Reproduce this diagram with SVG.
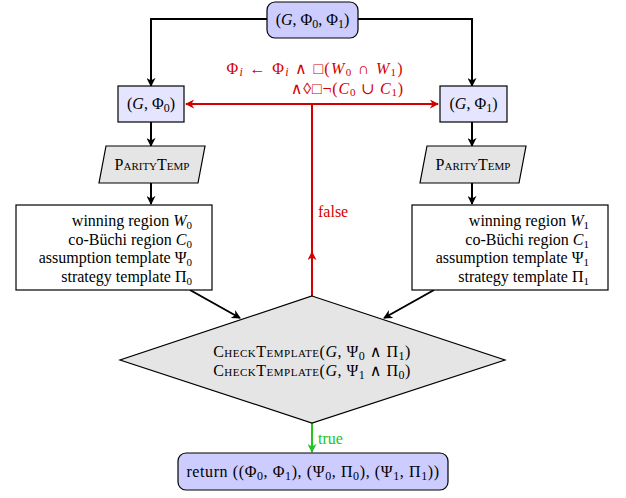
<svg xmlns="http://www.w3.org/2000/svg" width="626" height="498" viewBox="0 0 626 498">
<defs>
<style>
text{font-family:"Liberation Serif","DejaVu Serif",serif;font-size:16px;fill:#000}
.m{font-style:italic}
.sc{font-variant:small-caps}
.red{fill:#d40000}
.grn{fill:#22c422}
.box{stroke:#000;stroke-width:1.2}
.top{fill:#ccccff}
.lite{fill:#e5e5ff}
.gray{fill:#e5e5e5}
.white{fill:#fff}
.blk{fill:none;stroke:#000;stroke-width:2}
.rl{fill:none;stroke:#d40000;stroke-width:2}
.gl{fill:none;stroke:#22c422;stroke-width:2}
</style>
<marker id="ab" viewBox="0 0 10 10" refX="9" refY="5" markerWidth="9" markerHeight="9" orient="auto" markerUnits="userSpaceOnUse">
<path d="M0,0 L10,5 L0,10 L3,5 z" fill="#000"/>
</marker>
<marker id="ar" viewBox="0 0 10 10" refX="9" refY="5" markerWidth="9" markerHeight="9" orient="auto" markerUnits="userSpaceOnUse">
<path d="M0,0 L10,5 L0,10 L3,5 z" fill="#d40000"/>
</marker>
<marker id="ag" viewBox="0 0 10 10" refX="9" refY="5" markerWidth="9" markerHeight="9" orient="auto" markerUnits="userSpaceOnUse">
<path d="M0,0 L10,5 L0,10 L3,5 z" fill="#22c422"/>
</marker>
</defs>
<g id="connectors">
<path class="blk" d="M267,19 H151 V86" marker-end="url(#ab)"/>
<path class="blk" d="M358,19 H472 V86" marker-end="url(#ab)"/>
<path class="blk" d="M151,122 V146" marker-end="url(#ab)"/>
<path class="blk" d="M472,122 V146" marker-end="url(#ab)"/>
<path class="blk" d="M151,183 V204" marker-end="url(#ab)"/>
<path class="blk" d="M472,183 V204" marker-end="url(#ab)"/>
<path class="blk" d="M190,290 L240,318" marker-end="url(#ab)"/>
<path class="blk" d="M434,290 L384,318" marker-end="url(#ab)"/>
<path class="rl" d="M312,296 V104"/>
<path class="rl" d="M312,264 V252" marker-end="url(#ar)"/>
<path class="rl" d="M312,104 H186" marker-end="url(#ar)"/>
<path class="rl" d="M312,104 H438" marker-end="url(#ar)"/>
<path class="gl" d="M312,423 V452" marker-end="url(#ag)"/>
<text class="red" x="318" y="217">false</text>
<text class="grn" x="318" y="444">true</text>
<text class="red" x="404" y="74" text-anchor="end" font-size="17.5" letter-spacing="1.3">Φ<tspan class="m" font-size="12" dy="2">i</tspan><tspan dy="-2"> ← Φ</tspan><tspan class="m" font-size="12" dy="2">i</tspan><tspan dy="-2"> ∧ □(</tspan><tspan class="m">W</tspan><tspan font-size="11" dy="2">0</tspan><tspan dy="-2"> ∩ </tspan><tspan class="m">W</tspan><tspan font-size="11" dy="2">1</tspan><tspan dy="-2">)</tspan></text>
<text class="red" x="404" y="94" text-anchor="end" font-size="17.5" letter-spacing="0.8">∧◊□¬(<tspan class="m">C</tspan><tspan font-size="11" dy="2">0</tspan><tspan dy="-2"> ∪ </tspan><tspan class="m">C</tspan><tspan font-size="11" dy="2">1</tspan><tspan dy="-2">)</tspan></text>
</g>
<g id="start">
<rect class="box top" x="267" y="2" width="91" height="36" rx="8"/>
<text x="312.5" y="25" text-anchor="middle" font-size="17">(<tspan class="m">G</tspan>, Φ<tspan font-size="12" dy="3">0</tspan><tspan dy="-3">, Φ</tspan><tspan font-size="12" dy="3">1</tspan><tspan dy="-3">)</tspan></text>
</g>
<g id="g0">
<rect class="box lite" x="118" y="86" width="66" height="36"/>
<text x="151" y="109" text-anchor="middle" font-size="17">(<tspan class="m">G</tspan>, Φ<tspan font-size="12" dy="3">0</tspan><tspan dy="-3">)</tspan></text>
</g>
<g id="g1">
<rect class="box lite" x="440" y="86" width="67" height="36"/>
<text x="473.5" y="109" text-anchor="middle" font-size="17">(<tspan class="m">G</tspan>, Φ<tspan font-size="12" dy="3">1</tspan><tspan dy="-3">)</tspan></text>
</g>
<g id="pt0">
<polygon class="box gray" points="106,146 205,146 198,183 99,183"/>
<text class="sc" x="152" y="170" text-anchor="middle">ParityTemp</text>
</g>
<g id="pt1">
<polygon class="box gray" points="427,146 526,146 519,183 420,183"/>
<text class="sc" x="473" y="170" text-anchor="middle">ParityTemp</text>
</g>
<g id="res0">
<rect class="box white" x="16" y="205" width="196" height="85"/>
<text x="192" y="226" text-anchor="end">winning region <tspan class="m">W</tspan><tspan font-size="11" dy="3">0</tspan></text>
<text x="192" y="244.5" text-anchor="end">co-Büchi region <tspan class="m">C</tspan><tspan font-size="11" dy="3">0</tspan></text>
<text x="192" y="263" text-anchor="end">assumption template Ψ<tspan font-size="11" dy="3">0</tspan></text>
<text x="192" y="281.5" text-anchor="end">strategy template Π<tspan font-size="11" dy="3">0</tspan></text>
</g>
<g id="res1">
<rect class="box white" x="412" y="205" width="196" height="85"/>
<text x="589" y="226" text-anchor="end">winning region <tspan class="m">W</tspan><tspan font-size="11" dy="3">1</tspan></text>
<text x="589" y="244.5" text-anchor="end">co-Büchi region <tspan class="m">C</tspan><tspan font-size="11" dy="3">1</tspan></text>
<text x="589" y="263" text-anchor="end">assumption template Ψ<tspan font-size="11" dy="3">1</tspan></text>
<text x="589" y="281.5" text-anchor="end">strategy template Π<tspan font-size="11" dy="3">1</tspan></text>
</g>
<g id="check">
<polygon class="box gray" points="312,296 505,360 312,423 120,360"/>
<text class="sc" x="312" y="357" text-anchor="middle" font-size="18" letter-spacing="0.5">CheckTemplate(<tspan class="m">G</tspan>, Ψ<tspan font-size="12" dy="3">0</tspan><tspan dy="-3"> ∧ Π</tspan><tspan font-size="12" dy="3">1</tspan><tspan dy="-3">)</tspan></text>
<text class="sc" x="312" y="376" text-anchor="middle" font-size="18" letter-spacing="0.5">CheckTemplate(<tspan class="m">G</tspan>, Ψ<tspan font-size="12" dy="3">1</tspan><tspan dy="-3"> ∧ Π</tspan><tspan font-size="12" dy="3">0</tspan><tspan dy="-3">)</tspan></text>
</g>
<g id="ret">
<rect class="box top" x="178" y="453" width="270" height="37" rx="8"/>
<text x="313" y="477" text-anchor="middle" font-size="18" letter-spacing="0.6">return ((Φ<tspan font-size="12" dy="3">0</tspan><tspan dy="-3">, Φ</tspan><tspan font-size="12" dy="3">1</tspan><tspan dy="-3">), (Ψ</tspan><tspan font-size="12" dy="3">0</tspan><tspan dy="-3">, Π</tspan><tspan font-size="12" dy="3">0</tspan><tspan dy="-3">), (Ψ</tspan><tspan font-size="12" dy="3">1</tspan><tspan dy="-3">, Π</tspan><tspan font-size="12" dy="3">1</tspan><tspan dy="-3">))</tspan></text>
</g>
</svg>
